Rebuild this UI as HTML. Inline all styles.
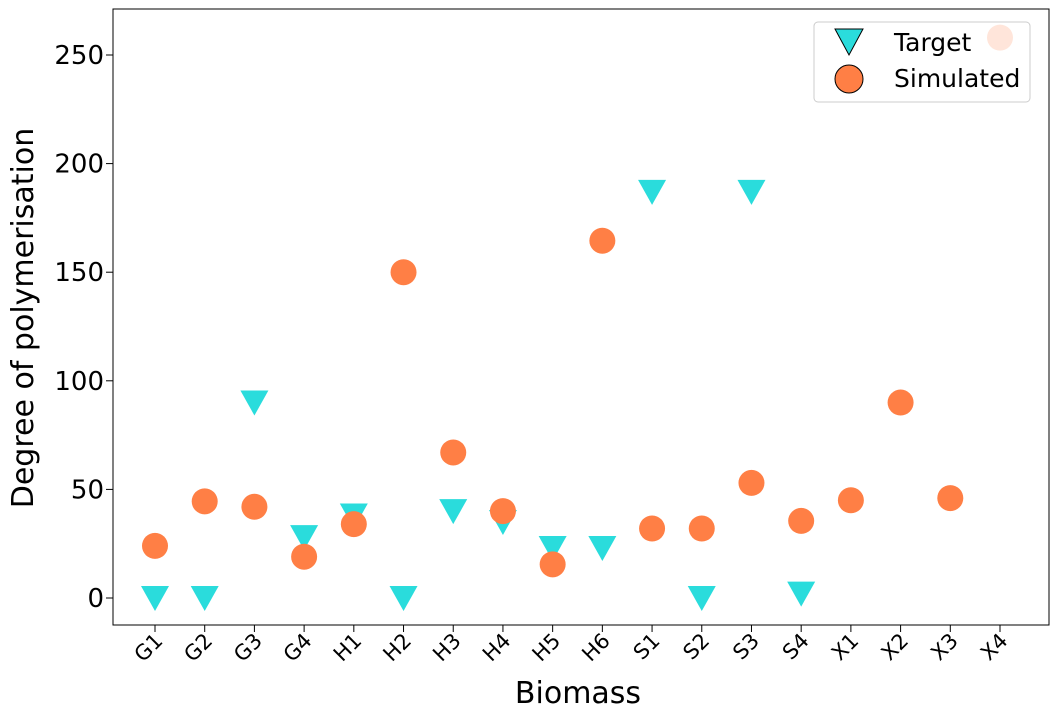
<!DOCTYPE html>
<html><head><meta charset="utf-8"><style>
body{margin:0;background:#fff;}
svg{display:block;font-family:"DejaVu Sans","Liberation Sans",sans-serif;}
</style></head><body>
<svg id="chart" width="1052" height="718" viewBox="0 0 1052 718">
<rect x="113" y="9" width="936" height="616" fill="#fff" stroke="#000" stroke-width="1"/>
<g id="yticks"></g><g id="xticks"></g><g id="marks"></g>
<text x="578" y="703" font-size="30" text-anchor="middle">Biomass</text>
<text transform="translate(33,318) rotate(-90)" font-size="30" text-anchor="middle">Degree of polymerisation</text>
<g>
<rect x="814" y="22" width="216" height="80" rx="4" fill="#fff" fill-opacity="0.8" stroke="#ccc"/>
<g>
<path d="M835,29 L863,29 L849,55 Z" fill="#2adcdc" stroke="#000" stroke-width="1"/>
<text x="894" y="51" font-size="25">Target</text></g>
<g>
<circle cx="849" cy="79" r="14" fill="#ff7f45" stroke="#000" stroke-width="1"/>
<text x="894" y="87" font-size="25">Simulated</text></g>
</g>
</svg>
<script>
const categories=["G1","G2","G3","G4","H1","H2","H3","H4","H5","H6","S1","S2","S3","S4","X1","X2","X3","X4"];
const targetValues=[0,0,90,28,38,0,40,35,23,23,187,0,187,2,null,null,null,null];
const simulatedValues=[24,44.5,42,19,34,150,67,40,15.5,164.5,32,32,53,35.5,45,90,46,258];
const yTicks=[0,50,100,150,200,250];
const NS="http://www.w3.org/2000/svg";
const xS=i=>155+i*(1000-155)/17;
const yS=v=>598-v*(598-55)/250;
function mk(t,a,p){const e=document.createElementNS(NS,t);for(const k in a)e.setAttribute(k,a[k]);p.appendChild(e);return e;}
const yt=document.getElementById('yticks'),xt=document.getElementById('xticks'),mg=document.getElementById('marks');
yTicks.forEach(v=>{const y=yS(v);
const l=mk('line',{x1:106,x2:113,y1:y,y2:y,stroke:'#000'},yt);


const t=mk('text',{x:104,y:y+9,'font-size':26,'text-anchor':'end'},yt);t.textContent=v;

});
categories.forEach((c,i)=>{const x=xS(i);
const l=mk('line',{x1:x,x2:x,y1:625,y2:632,stroke:'#000'},xt);


const t=mk('text',{x:0,y:0,'font-size':21,'text-anchor':'end',transform:`translate(${x+9},${642}) rotate(-45)`},xt);t.textContent=c;

});
targetValues.forEach((v,i)=>{if(v===null)return;const x=xS(i),y=yS(v);
const p=mk('path',{d:`M${x-14},${y-12} L${x+14},${y-12} L${x},${y+13} Z`,fill:'#2adcdc'},mg);

});
simulatedValues.forEach((v,i)=>{const c=mk('circle',{cx:xS(i),cy:yS(v),r:13,fill:'#ff7f45'},mg);

});
</script>
</body></html>
